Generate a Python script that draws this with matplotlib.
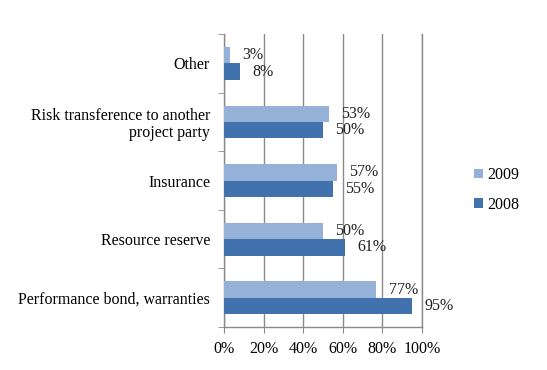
import numpy as np
import matplotlib
matplotlib.use("Agg")
import matplotlib.pyplot as plt
from matplotlib.ticker import FixedLocator

# data (bottom to top)
categories = ["Performance bond, warranties", "Resource reserve", "Insurance",
              "Risk transference to another\nproject party", "Other"]
vals_2009 = [77, 50, 57, 53, 3]
vals_2008 = [95, 61, 55, 50, 8]
xticks = [0, 20, 40, 60, 80, 100]

plt.rcParams['font.family'] = ['Liberation Serif', 'DejaVu Serif']
fs = 11.5

c09 = "#95b1d7"
c08 = "#4172ad"
gridc = "#8a8a8a"

fig = plt.figure(figsize=(5.47, 3.70), dpi=100)
ax = fig.add_axes([0.4095, 0.116, 0.362, 0.792])

y = np.arange(len(categories))
h = 0.28
b09 = ax.barh(y + h / 2, vals_2009, height=h, color=c09, label="2009", zorder=3)
b08 = ax.barh(y - h / 2, vals_2008, height=h, color=c08, label="2008", zorder=3)

for bars, vals in [(b09, vals_2009), (b08, vals_2008)]:
    for bar, v in zip(bars, vals):
        ax.annotate(f"{v}%", (bar.get_width(), bar.get_y() + bar.get_height() / 2),
                    xytext=(9, 0), textcoords="offset points",
                    ha="left", va="center", fontsize=fs, color="#222222")

ax.set_xlim(0, 100)
ax.set_ylim(-0.5, len(categories) - 0.5)
ax.set_xticks(xticks)
ax.set_xticklabels([f"{t}%" for t in xticks], fontsize=fs)
ax.xaxis.grid(True, color=gridc, linewidth=1.0, zorder=0)
ax.axvline(100, color=gridc, linewidth=1.0, zorder=0, clip_on=False)
ax.set_axisbelow(True)

# category labels centred, ticks at the boundaries
ax.set_yticks(y)
ax.set_yticklabels(categories, fontsize=fs, linespacing=1.05)
ax.tick_params(axis="y", which="major", length=0, pad=10)
ax.yaxis.set_minor_locator(FixedLocator(np.arange(-0.5, len(categories), 1.0)))
ax.tick_params(axis="y", which="minor", length=4, color=gridc)
ax.tick_params(axis="x", length=4, color=gridc, pad=6)

for s in ["top", "right"]:
    ax.spines[s].set_visible(False)
for s in ["left", "bottom"]:
    ax.spines[s].set_color(gridc)
    ax.spines[s].set_linewidth(1.0)

leg = ax.legend(handles=[b09, b08], loc="center left", bbox_to_anchor=(0.84, 0.487),
                bbox_transform=fig.transFigure, frameon=False, fontsize=fs,
                handlelength=0.55, handleheight=0.55, handletextpad=0.3,
                labelspacing=0.85)

fig.savefig("out.png", dpi=100)
